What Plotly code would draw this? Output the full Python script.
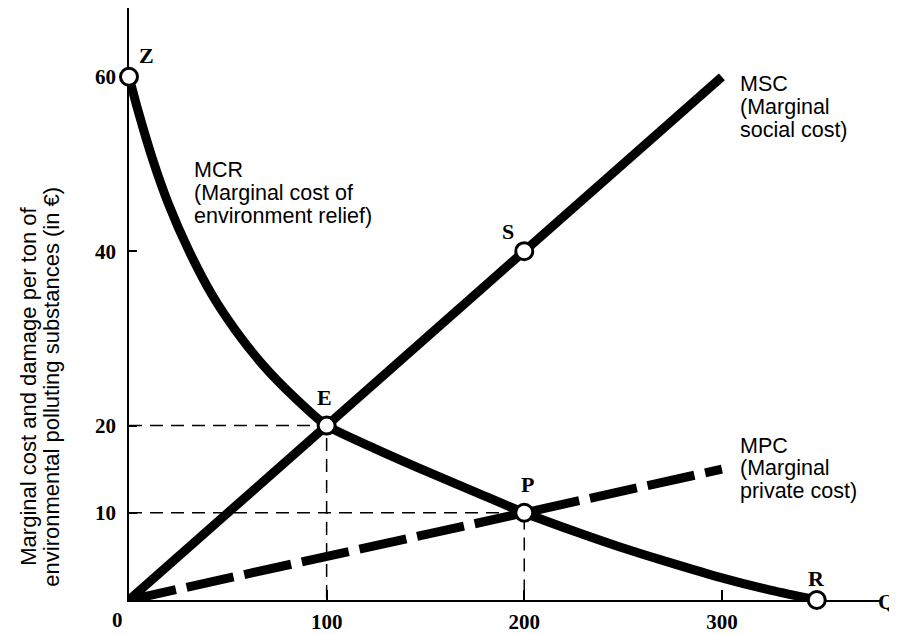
import plotly.graph_objects as go

# ---- data ----
msc_x = [0, 300]
msc_y = [0, 60]
mpc_x = [0, 300]
mpc_y = [0, 15]
mcr_x = [0, 4.6, 12, 20, 30, 42, 54, 68, 83, 100, 125, 150, 175, 200, 225, 248, 275, 299, 325, 348]
mcr_y = [60, 56.1, 50.5, 45.4, 40.2, 35.0, 30.9, 26.9, 23.4, 20, 17.3, 14.8, 12.4, 10, 7.9, 6.1, 4.2, 2.6, 1.1, 0]

pt_labels = ["Z", "E", "S", "P", "R"]
pt_x = [0, 100, 200, 200, 348]
pt_y = [60, 20, 40, 10, 0]

guide1_x = [0, 100, 100]
guide1_y = [20, 20, 0]
guide2_x = [0, 200, 200]
guide2_y = [10, 10, 0]

x_ticks = [100, 200, 300]
y_ticks = [10, 20, 40, 60]

mcr_label = ["MCR", "(Marginal cost of", "environment relief)"]
msc_label = ["MSC", "(Marginal", "social cost)"]
mpc_label = ["MPC", "(Marginal", "private cost)"]
y_title = ["Marginal cost and damage per ton of",
           "environmental polluting substances (in €)"]

SANS = "Liberation Sans, Arial, sans-serif"
SERIF = "Liberation Serif, Times New Roman, serif"

# layout geometry (page has an 8px body margin)
OFF = 8
L, T, PW, PH = 121, 0, 751, 594
W, H = 889, 626


def fx(px):
    return (px - OFF - L) / PW


def fy(py):
    return (T + PH - (py - OFF)) / PH


fig = go.Figure()

for gx, gy in [(guide1_x, guide1_y), (guide2_x, guide2_y)]:
    fig.add_trace(go.Scatter(x=gx, y=gy, mode="lines",
                             line=dict(color="black", width=1.5, dash="13px,8px"),
                             hoverinfo="skip", showlegend=False))

fig.add_trace(go.Scatter(x=mpc_x, y=mpc_y, mode="lines",
                         line=dict(color="black", width=9, dash="48px,11px"),
                         showlegend=False, name="MPC"))
fig.add_trace(go.Scatter(x=msc_x, y=msc_y, mode="lines",
                         line=dict(color="black", width=9),
                         showlegend=False, name="MSC"))
fig.add_trace(go.Scatter(x=mcr_x, y=mcr_y, mode="lines",
                         line=dict(color="black", width=9, shape="spline", smoothing=0.6),
                         showlegend=False, name="MCR"))

fig.add_trace(go.Scatter(x=pt_x, y=pt_y, mode="markers",
                         marker=dict(size=17, color="white", line=dict(color="black", width=3)),
                         cliponaxis=False, showlegend=False))

# point labels
shifts = {"Z": (17, 21), "E": (-2, 28), "S": (-16, 20), "P": (3, 28), "R": (0, 22)}
for lab, x, y in zip(pt_labels, pt_x, pt_y):
    dx, dy = shifts[lab]
    fig.add_annotation(x=x, y=y, text=lab, showarrow=False, xshift=dx, yshift=dy,
                       font=dict(family=SERIF, size=22, color="black", weight="bold"))

# curve labels, one annotation per line for tight line spacing
for lines, left, top in [(mcr_label, 192, 170.5), (msc_label, 738, 84.7), (mpc_label, 738, 447)]:
    for i, txt in enumerate(lines):
        fig.add_annotation(xref="paper", yref="paper", x=fx(left), y=fy(top + 23 * i),
                           text=txt, showarrow=False, xanchor="left", yanchor="middle",
                           font=dict(family=SANS, size=21.5, color="black"))

# origin and Q labels
fig.add_annotation(x=0, y=0, text="0", showarrow=False, xshift=-12, yshift=-20,
                   font=dict(family=SERIF, size=21, color="black", weight="bold"))
fig.add_annotation(x=380, y=0, text="Q", showarrow=False, xanchor="left", xshift=-4, yshift=-1,
                   font=dict(family=SERIF, size=22, color="black", weight="bold"))

# y-axis title (two rotated lines)
for txt, cx in zip(y_title, [29, 52]):
    fig.add_annotation(xref="paper", yref="paper", x=fx(cx), y=fy(388), textangle=-90,
                       text=txt, showarrow=False, xanchor="center", yanchor="middle",
                       font=dict(family=SANS, size=22, color="black"))

fig.update_layout(
    width=W, height=H,
    margin=dict(l=L, r=W - L - PW, t=T, b=H - T - PH),
    paper_bgcolor="white", plot_bgcolor="white",
    xaxis=dict(range=[0, 380], showgrid=False, zeroline=False, showline=True,
               linecolor="black", linewidth=1.5, ticks="inside", ticklen=10,
               tickcolor="black", tickwidth=1.5, tickvals=x_ticks,
               ticktext=[str(v) for v in x_ticks], ticklabelstandoff=2,
               layer="below traces",
               tickfont=dict(family=SERIF, size=21, color="black", weight="bold")),
    yaxis=dict(range=[0, PH / 8.75], showgrid=False, zeroline=False, showline=True,
               linecolor="black", linewidth=1.5, ticks="inside", ticklen=8,
               tickcolor="black", tickwidth=1.5, tickvals=y_ticks,
               ticktext=[str(v) for v in y_ticks], ticklabelstandoff=7,
               layer="below traces",
               tickfont=dict(family=SERIF, size=21, color="black", weight="bold")),
)

fig.write_html("out.html")
